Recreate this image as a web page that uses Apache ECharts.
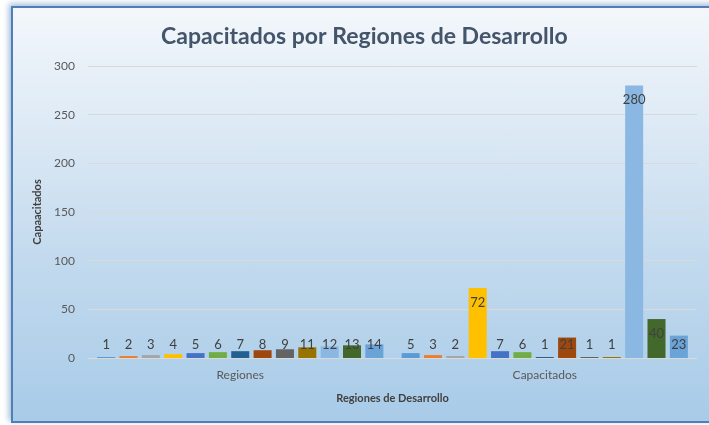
<!DOCTYPE html>
<html>
<head>
<meta charset="utf-8">
<script src="https://cdn.jsdelivr.net/npm/echarts@6/dist/echarts.min.js"></script>
<style>
  html, body { margin: 0; padding: 0; background: #ffffff; width: 709px; height: 425px; overflow: hidden; }
  #frame {
    position: absolute; left: 11px; top: 6px; width: 710px; height: 413px;
    border: 2px solid #4F7FB8;
    box-shadow: -2px -2px 6px rgba(79,127,184,0.55);
    background: linear-gradient(to bottom, #F3F7FB 0%, #DCE9F5 30%, #C3DAEE 60%, #A8CBE8 100%);
  }
  #chart { position: absolute; left: 0; top: 0; width: 709px; height: 425px; }
</style>
</head>
<body>
<div id="frame"></div>
<div id="chart"></div>
<script>
// Data
const categories = ['Regiones', 'Capacitados'];
const seriesNames = ['Serie 1','Serie 2','Serie 3','Serie 4','Serie 5','Serie 6','Serie 7','Serie 8','Serie 9','Serie 10','Serie 11','Serie 12','Serie 13'];
const regionesValues = [1, 2, 3, 4, 5, 6, 7, 8, 9, 11, 12, 13, 14];
const capacitadosValues = [5, 3, 2, 72, 7, 6, 1, 21, 1, 1, 280, 40, 23];
const colors = ['#5B9BD5','#ED7D31','#A5A5A5','#FFC000','#4472C4','#70AD47','#255E91','#9E480E','#636363','#997300','#8AB8E2','#43682B','#6AA3D8'];
const yTicks = [0, 50, 100, 150, 200, 250, 300];

const FONT = 'Lato, "Open Sans", sans-serif';

function mkData(v) {
  const big = v > 28;
  return {
    value: v,
    label: big ? { position: 'insideTop', distance: 8 } : { position: 'insideBottom', distance: 7 }
  };
}

const series = seriesNames.map((name, i) => ({
  name: name,
  type: 'bar',
  barGap: '24%',
  barCategoryGap: '6%',
  itemStyle: { color: colors[i] },
  label: {
    show: true,
    color: '#404040',
    fontSize: 13,
    fontFamily: FONT
  },
  data: [mkData(regionesValues[i]), mkData(capacitadosValues[i])]
}));

const chart = echarts.init(document.getElementById('chart'), null, { renderer: 'canvas' });
chart.setOption({
  animation: false,
  backgroundColor: 'transparent',
  title: {
    text: 'Capacitados por Regiones de Desarrollo',
    left: 156,
    top: 20,
    textStyle: { fontFamily: FONT, fontSize: 23, fontWeight: 'bold', color: '#44546A' }
  },
  grid: { left: 88, right: 12, top: 66, bottom: 67, containLabel: false },
  xAxis: {
    type: 'category',
    data: categories,
    name: 'Regiones de Desarrollo',
    nameLocation: 'middle',
    nameGap: 35,
    nameTextStyle: { fontFamily: FONT, fontSize: 11, fontWeight: 'bold', color: '#404040' },
    axisLine: { lineStyle: { color: '#D9D9D9', width: 1 } },
    axisTick: { show: false },
    axisLabel: { fontFamily: FONT, fontSize: 12, color: '#595959', margin: 11 }
  },
  yAxis: {
    type: 'value',
    min: yTicks[0],
    max: yTicks[yTicks.length - 1],
    interval: yTicks[1] - yTicks[0],
    name: 'Capaacitados',
    nameLocation: 'middle',
    nameGap: 42,
    nameRotate: 90,
    nameTextStyle: { fontFamily: FONT, fontSize: 11, fontWeight: 'bold', color: '#404040' },
    axisLine: { show: false },
    axisTick: { show: false },
    axisLabel: { fontFamily: FONT, fontSize: 12, color: '#595959', margin: 13 },
    splitLine: { lineStyle: { color: '#D9D9D9', width: 1 } }
  },
  series: series
});
</script>
</body>
</html>
